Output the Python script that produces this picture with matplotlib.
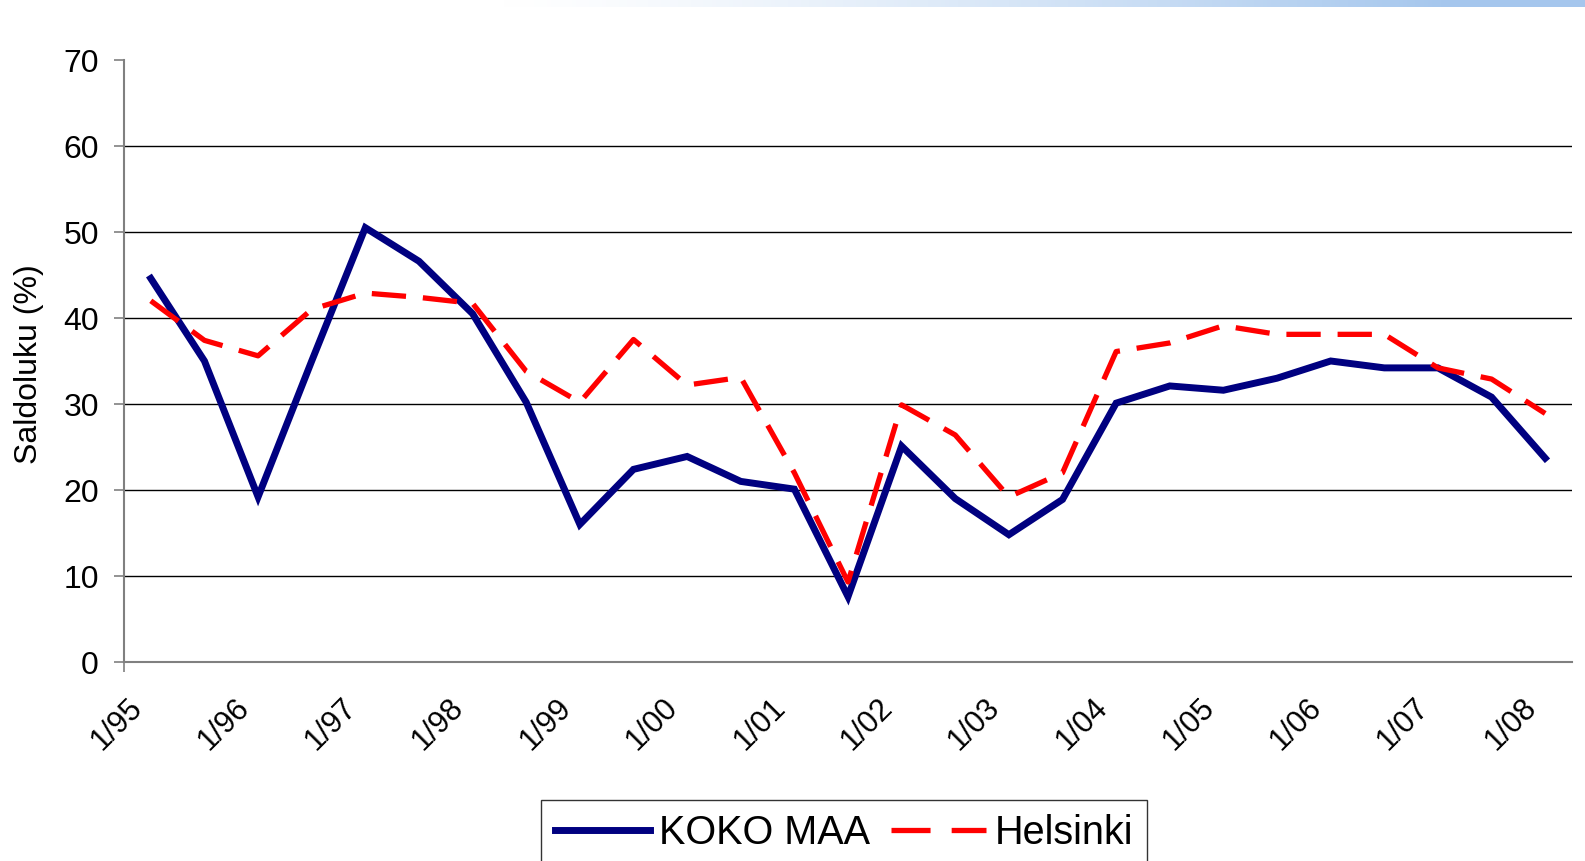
#! /usr/bin/env python
import numpy as np
import matplotlib
matplotlib.use('Agg')
import matplotlib.pyplot as plt
import matplotlib.transforms as mtransforms
from matplotlib.lines import Line2D

# half-year points, 1/95 .. 1/08
periods = ['1/95', '7/95', '1/96', '7/96', '1/97', '7/97', '1/98', '7/98',
           '1/99', '7/99', '1/00', '7/00', '1/01', '7/01', '1/02', '7/02',
           '1/03', '7/03', '1/04', '7/04', '1/05', '7/05', '1/06', '7/06',
           '1/07', '7/07', '1/08']
tick_labels = ['1/95', '1/96', '1/97', '1/98', '1/99', '1/00', '1/01',
               '1/02', '1/03', '1/04', '1/05', '1/06', '1/07', '1/08']

koko_maa = [44.6, 35.0, 19.2, 35.0, 50.5, 46.6, 40.5, 30.2, 16.0, 22.4,
            23.9, 21.0, 20.1, 7.6, 25.1, 19.0, 14.8, 18.9, 30.1, 32.1,
            31.6, 33.0, 35.0, 34.2, 34.2, 30.8, 23.7]
helsinki = [42.0, 37.4, 35.6, 41.0, 42.9, 42.4, 41.7, 33.8, 30.2, 37.5,
            32.2, 33.1, 22.0, 9.3, 29.9, 26.4, 19.2, 22.0, 36.1, 37.1,
            39.1, 38.1, 38.1, 38.1, 34.2, 32.9, 28.9]

y_ticks = [0, 10, 20, 30, 40, 50, 60, 70]

W, H = 1585, 861
NAVY = '#000080'
RED = '#ff0000'


def main():
    plt.rcParams['font.family'] = ['Liberation Sans', 'DejaVu Sans']
    fig = plt.figure(figsize=(W / 100.0, H / 100.0), dpi=100)

    # faint blue strip along the top edge
    strip = fig.add_axes([500.0 / W, 1 - 7.0 / H, 1 - 500.0 / W, 7.0 / H])
    grad = np.clip(np.linspace(0, 1.15, 256), 0, 1) ** 1.3
    c0 = np.array([1.0, 1.0, 1.0])
    c1 = np.array([0.65, 0.78, 0.93])
    img = c0[None, :] + (c1 - c0)[None, :] * grad[:, None]
    strip.imshow(img[None, :, :], aspect='auto', extent=[0, 1, 0, 1])
    strip.axis('off')

    ax = fig.add_axes([124.0 / W, 1 - 662.0 / H, 1448.0 / W, 602.0 / H])
    x = np.arange(len(periods))

    for yv in y_ticks[1:-1]:
        ax.axhline(yv, color='black', linewidth=1.0, zorder=1)

    ax.plot(x, koko_maa, color=NAVY, linewidth=5.0,
            solid_joinstyle='miter', zorder=3)
    ax.plot(x, helsinki, color=RED, linewidth=3.8,
            dashes=(6.5, 3.2), zorder=4)

    ax.set_xlim(-0.5, len(periods) - 0.5)
    ax.set_ylim(0, 70)

    for side in ['top', 'right']:
        ax.spines[side].set_visible(False)
    for side in ['left', 'bottom']:
        ax.spines[side].set_color('#808080')
        ax.spines[side].set_linewidth(1.5)

    ax.set_yticks(y_ticks)
    ax.tick_params(axis='y', length=7, width=1.2, color='#808080',
                   labelsize=23, pad=11)

    ax.set_xticks(x[::2])
    ax.set_xticklabels(tick_labels, rotation=45, ha='right', va='top',
                       rotation_mode='anchor', fontsize=22)
    ax.tick_params(axis='x', length=0, pad=22)
    offset = mtransforms.ScaledTranslation(-24 / 100.0, 0, fig.dpi_scale_trans)
    for lab in ax.get_xticklabels():
        lab.set_transform(lab.get_transform() + offset)

    # little tick where the y axis crosses the category axis
    ax.set_xticks([-0.5], minor=True)
    ax.tick_params(axis='x', which='minor', length=7, width=1.2,
                   color='#808080')

    fig.text(29.0 / W, 1 - 364.0 / H, 'Saldoluku (%)', rotation=90,
             ha='center', va='center', fontsize=23)

    handles = [Line2D([], [], color=NAVY, linewidth=5.0),
               Line2D([], [], color=RED, linewidth=3.8, dashes=(7.4, 4.0))]
    leg = fig.legend(handles, ['KOKO MAA', 'Helsinki'], loc='upper left',
                     bbox_to_anchor=(541.0 / W, 1 - 800.0 / H),
                     ncol=2, fontsize=28.5, frameon=True, fancybox=False,
                     handlelength=2.4, handletextpad=0.22, columnspacing=0.55,
                     borderpad=0.35, borderaxespad=0)
    leg.get_frame().set_edgecolor('black')
    leg.get_frame().set_linewidth(1.0)

    fig.savefig('out.png', dpi=100)


if __name__ == '__main__':
    main()
